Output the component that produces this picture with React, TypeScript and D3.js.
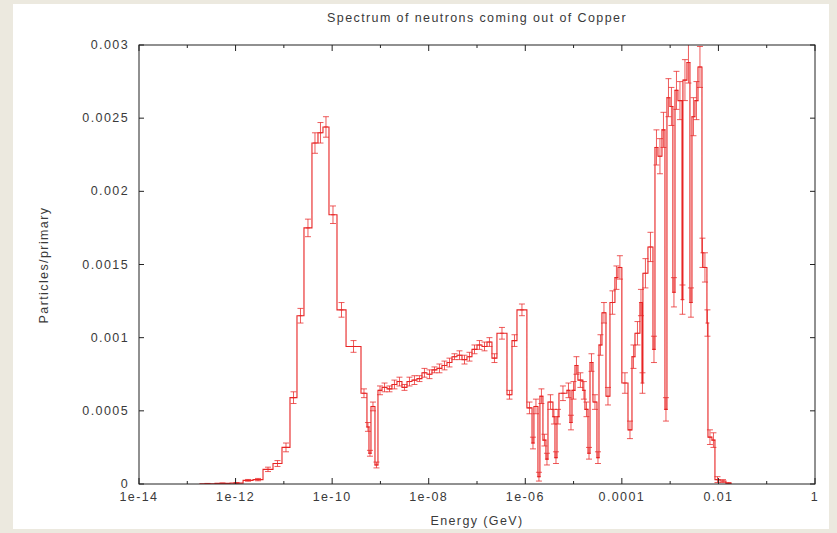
import React from "react";
import * as d3 from "d3";

// ---- Data ----
const title = "Spectrum of neutrons coming out of Copper";
const xLabel = "Energy (GeV)";
const yLabel = "Particles/primary";

// Bin edges in GeV (histogram steps)
const energyEdges = [
  1.83e-13, 3.75e-13, 7.66e-13, 1.43e-12, 2.30e-12, 3.70e-12, 5.96e-12, 9.15e-12, 1.34e-11, 1.87e-11,
  2.61e-11, 3.82e-11, 5.09e-11, 6.46e-11, 8.60e-11, 1.26e-10, 1.94e-10, 3.96e-10, 5.26e-10, 5.79e-10,
  6.37e-10, 7.71e-10, 8.89e-10, 1.08e-9, 1.37e-9, 1.73e-9, 2.20e-9, 2.79e-9, 3.55e-9, 4.50e-9,
  5.71e-9, 7.25e-9, 9.20e-9, 1.17e-8, 1.48e-8, 1.88e-8, 2.39e-8, 3.03e-8, 3.85e-8, 4.89e-8,
  6.20e-8, 7.87e-8, 1.00e-7, 1.27e-7, 1.61e-7, 2.04e-7, 2.59e-7, 4.18e-7, 5.30e-7, 6.73e-7,
  1.08e-6, 1.38e-6, 1.51e-6, 1.83e-6, 2.01e-6, 2.32e-6, 2.68e-6, 2.95e-6, 3.74e-6, 4.12e-6,
  4.53e-6, 4.98e-6, 7.30e-6, 8.42e-6, 9.27e-6, 1.07e-5, 1.23e-5, 1.56e-5, 1.72e-5, 1.99e-5,
  2.19e-5, 2.52e-5, 3.05e-5, 3.36e-5, 3.87e-5, 4.69e-5, 5.67e-5, 7.19e-5, 8.30e-5, 1.00e-4,
  1.34e-4, 1.62e-4, 1.87e-4, 2.37e-4, 2.61e-4, 2.73e-4, 3.47e-4, 4.41e-4, 4.85e-4, 5.59e-4,
  6.77e-4, 7.81e-4, 8.59e-4, 9.91e-4, 1.14e-3, 1.26e-3, 1.45e-3, 1.76e-3, 1.84e-3, 2.23e-3,
  2.57e-3, 2.83e-3, 3.26e-3, 3.77e-3, 4.56e-3, 4.78e-3, 5.78e-3, 6.07e-3, 7.34e-3, 8.47e-3,
  1.08e-2, 1.43e-2, 1.82e-2,
];

// Particles/primary per bin
const flux = [
  0.000002, 0.000004, 0.000006, 0.000025, 0.00003, 0.0001, 0.00014, 0.00025, 0.00059, 0.00115,
  0.00175, 0.00233, 0.0024, 0.00244, 0.00184, 0.00119, 0.00094, 0.00062, 0.00039, 0.00021,
  0.00053, 0.00013, 0.00064, 0.00066, 0.00065, 0.00068, 0.0007, 0.00066, 0.0007, 0.00071,
  0.00072, 0.00076, 0.00075, 0.00078, 0.00079, 0.00081, 0.00083, 0.00087, 0.00088, 0.00085,
  0.00087, 0.00092, 0.00095, 0.00094, 0.00097, 0.00086, 0.00103, 0.00061, 0.00098, 0.00119,
  0.00052, 0.00028, 0.00053, 0.00005, 0.0006, 0.0003, 0.00017, 0.00056, 0.00046, 0.00018,
  0.00046, 0.00062, 0.00064, 0.00042, 0.00064, 0.00081, 0.00071, 0.00064, 0.00051, 0.00021,
  0.00083, 0.00056, 0.00018, 0.00095, 0.00117, 0.0006, 0.00124, 0.00141, 0.00148, 0.00069,
  0.00037, 0.00087, 0.00103, 0.00124, 0.00069, 0.00144, 0.00162, 0.00092, 0.0023, 0.00224,
  0.00242, 0.00051, 0.00264, 0.00258, 0.00131, 0.00269, 0.00262, 0.00126, 0.00276, 0.00288,
  0.00124, 0.00251, 0.00262, 0.00285, 0.00158, 0.00148, 0.0011, 0.00032, 0.0003, 0.00003,
  0.00002, 0.000005,
];

// Statistical error per bin
const fluxErr = [
  0.000002, 0.000003, 0.000004, 0.000006, 0.000008, 0.000015, 0.00002, 0.00003, 0.00004, 0.00005,
  0.00006, 0.00007, 0.00007, 0.00007, 0.00006, 0.00005, 0.00004, 0.00003, 0.00003, 0.00002,
  0.00003, 0.00002, 0.00003, 0.00003, 0.00002, 0.00003, 0.00003, 0.00002, 0.00003, 0.00003,
  0.00002, 0.00003, 0.00003, 0.00002, 0.00003, 0.00003, 0.00003, 0.00002, 0.00003, 0.00003,
  0.00003, 0.00003, 0.00003, 0.00003, 0.00003, 0.00003, 0.00004, 0.00003, 0.00004, 0.00004,
  0.00004, 0.00004, 0.00005, 0.00003, 0.00005, 0.00004, 0.00004, 0.00005, 0.00005, 0.00004,
  0.00005, 0.00005, 0.00005, 0.00005, 0.00006, 0.00006, 0.00005, 0.00006, 0.00005, 0.00004,
  0.00006, 0.00005, 0.00004, 0.00007, 0.00007, 0.00006, 0.00008, 0.00008, 0.00008, 0.00007,
  0.00006, 0.00008, 0.00008, 0.00009, 0.00007, 0.0001, 0.0001, 0.00009, 0.00012, 0.00012,
  0.00012, 0.00008, 0.00013, 0.00013, 0.0001, 0.00013, 0.00013, 0.0001, 0.00014, 0.00014,
  0.0001, 0.00013, 0.00013, 0.00014, 0.0001, 0.0001, 0.00009, 0.00005, 0.00005, 0.00002,
  0.00001, 0.000005,
];

const xTickValues = [1e-14, 1e-12, 1e-10, 1e-8, 1e-6, 1e-4, 1e-2, 1];
const xTickLabels = ["1e-14", "1e-12", "1e-10", "1e-08", "1e-06", "0.0001", "0.01", "1"];
const xMinorTickValues = [1e-13, 1e-11, 1e-9, 1e-7, 1e-5, 1e-3, 1e-1];
const yTickValues = [0, 0.0005, 0.001, 0.0015, 0.002, 0.0025, 0.003];
const yTickLabels = ["0", "0.0005", "0.001", "0.0015", "0.002", "0.0025", "0.003"];

// ---- Layout ----
const W = 837;
const H = 533;
const L = 139;
const R = 815;
const T = 45;
const B = 484;
const FONT = "'Liberation Sans', Arial, Helvetica, sans-serif";
const TEXT_COLOR = "#3a3a3a";
const RED = "#e82424";

export default function App() {
  const x = d3.scaleLog().domain([1e-14, 1]).range([L, R]);
  const y = d3.scaleLinear().domain([0, 0.003]).range([B, T]);

  const n = Math.min(flux.length, energyEdges.length - 1);

  // histogram step path
  let d = `M${x(energyEdges[0])},${y(0)}`;
  for (let i = 0; i < n; i++) {
    d += `V${y(flux[i])}H${x(energyEdges[i + 1])}`;
  }
  d += `V${y(0)}`;

  const bars = [];
  for (let i = 0; i < n; i++) {
    const cx = x(Math.sqrt(energyEdges[i] * energyEdges[i + 1]));
    const e = fluxErr[i] || 0;
    const y0 = y(Math.max(0, flux[i] - e));
    const y1 = y(flux[i] + e);
    const cw = 3;
    bars.push(
      <g key={i}>
        <line x1={cx} x2={cx} y1={y0} y2={y1} />
        <line x1={cx - cw} x2={cx + cw} y1={y0} y2={y0} />
        <line x1={cx - cw} x2={cx + cw} y1={y1} y2={y1} />
        <line x1={cx - 2} x2={cx + 2} y1={y(flux[i])} y2={y(flux[i])} />
      </g>
    );
  }

  const textStyle = {
    fontFamily: FONT,
    fontSize: 12.5,
    letterSpacing: 1.4,
    fill: TEXT_COLOR,
  } as React.CSSProperties;

  return (
    <svg
      width={W}
      height={H}
      style={{ position: "absolute", left: 0, top: 0, display: "block" }}
    >
      <rect x={0} y={0} width={W} height={H} fill="#ece9df" />
      <rect x={13} y={4} width={816} height={525} fill="#ffffff" />
      <defs>
        <clipPath id="plotclip">
          <rect x={L} y={T} width={R - L} height={B - T} />
        </clipPath>
      </defs>

      {/* data */}
      <g clipPath="url(#plotclip)">
        <g stroke={RED} strokeWidth={1} strokeOpacity={0.75} fill="none">
          {bars}
        </g>
        <path d={d} fill="none" stroke={RED} strokeWidth={1.1} />
      </g>

      {/* frame */}
      <rect
        x={L}
        y={T}
        width={R - L}
        height={B - T}
        fill="none"
        stroke="#222"
        strokeWidth={1}
      />

      {/* x ticks */}
      <g stroke="#222" strokeWidth={1}>
        {xTickValues.map((v, i) => (
          <g key={"xt" + i}>
            <line x1={x(v)} x2={x(v)} y1={B} y2={B - 6} />
            <line x1={x(v)} x2={x(v)} y1={T} y2={T + 6} />
          </g>
        ))}
        {xMinorTickValues.map((v, i) => (
          <g key={"xm" + i}>
            <line x1={x(v)} x2={x(v)} y1={B} y2={B - 3} />
            <line x1={x(v)} x2={x(v)} y1={T} y2={T + 3} />
          </g>
        ))}
        {yTickValues.map((v, i) => (
          <g key={"yt" + i}>
            <line x1={L} x2={L + 5} y1={y(v)} y2={y(v)} />
            <line x1={R} x2={R - 5} y1={y(v)} y2={y(v)} />
          </g>
        ))}
      </g>

      {/* tick labels */}
      {xTickValues.map((v, i) => (
        <text
          key={"xl" + i}
          x={x(v)}
          y={501}
          textAnchor="middle"
          style={textStyle}
        >
          {xTickLabels[i]}
        </text>
      ))}
      {yTickValues.map((v, i) => (
        <text
          key={"yl" + i}
          x={129}
          y={y(v) + 4}
          textAnchor="end"
          style={textStyle}
        >
          {yTickLabels[i]}
        </text>
      ))}

      {/* titles */}
      <text x={(L + R) / 2} y={22} textAnchor="middle" style={textStyle}>
        {title}
      </text>
      <text x={(L + R) / 2} y={525} textAnchor="middle" style={textStyle}>
        {xLabel}
      </text>
      <text
        transform={`translate(48,265) rotate(-90)`}
        textAnchor="middle"
        style={textStyle}
      >
        {yLabel}
      </text>
    </svg>
  );
}
